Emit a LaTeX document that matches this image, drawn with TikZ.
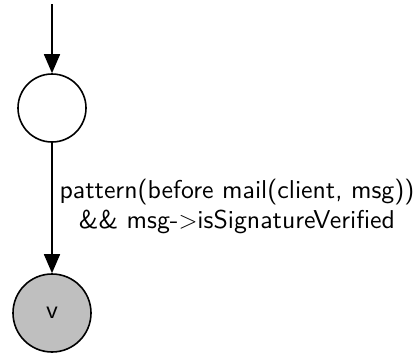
\documentclass[tikz,border=0pt]{standalone}
\usepackage{fontspec}
\newfontfamily\lblfont{lmsans10-regular.otf}
\usetikzlibrary{arrows.meta}
\begin{document}
\begin{tikzpicture}[x=1pt,y=-1pt,
  state/.style={circle,draw,line width=1.6pt,minimum size=68pt,inner sep=0pt},
  final/.style={state,fill=black!25,minimum size=78pt},
  trans/.style={line width=1.6pt,-{Triangle[length=19pt,width=16pt]}},
  lbl/.style={font=\lblfont\fontsize{25.8}{30}\selectfont,align=center}]
\useasboundingbox (0,0) rectangle (419,356);
\coordinate (start) at (52,4);
\node[state] (s0) at (52,108) {};
\node[final,font=\lblfont\fontsize{25.8}{28}\selectfont] (s1) at (52,313) {v};
\draw[trans] (start) -- (s0);
\draw[trans] (s0) -- (s1);
\node[lbl] (guard) at (237,206) {pattern(before mail(client, msg))\\ \&\& msg-$>$isSignatureVerified};
\end{tikzpicture}
\end{document}
